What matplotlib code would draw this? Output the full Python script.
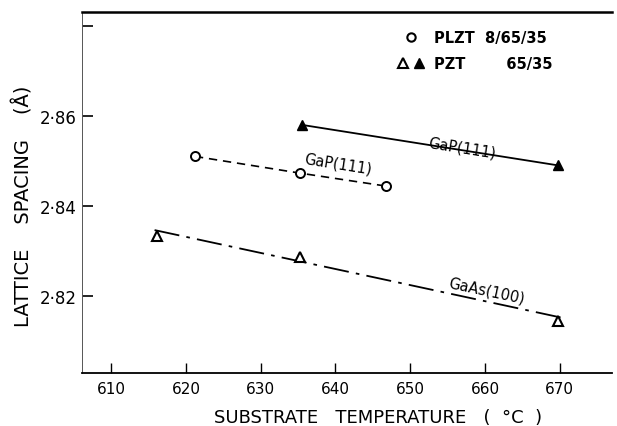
import numpy as np
import matplotlib.pyplot as plt
from matplotlib.lines import Line2D
from matplotlib.legend_handler import HandlerTuple

# PLZT 8/65/35 on GaP(111)
temp_plzt = [621.2, 635.2, 646.8]
spacing_plzt = [2.851, 2.8473, 2.8444]

# PZT 65/35 on GaP(111)
temp_pzt_gap = [635.5, 669.8]
spacing_pzt_gap = [2.858, 2.849]

# PZT 65/35 on GaAs(100)
temp_pzt_gaas = [616.1, 635.2, 669.8]
spacing_pzt_gaas = [2.8333, 2.8286, 2.8145]
gaas_fit_range = [615.8, 670.9]

xticks = [610, 620, 630, 640, 650, 660, 670]
yticks = [2.82, 2.84, 2.86, 2.88]
ytick_labels = ['2·82', '2·84', '2·86', '']

fig = plt.figure(figsize=(6.17, 4.27), dpi=100)
ax = fig.add_axes([0.133, 0.124, 0.859, 0.846])

# dashed line through PLZT points
ax.plot(temp_plzt, spacing_plzt, color='black', lw=1.2, dashes=(5, 3.5),
        marker='o', mfc='white', mec='black', ms=6.5, mew=1.4)

# solid line through PZT on GaP
ax.plot(temp_pzt_gap, spacing_pzt_gap, color='black', lw=1.3,
        marker='^', mfc='black', mec='black', ms=7)

# dash-dot fitted line for PZT on GaAs
coef = np.polyfit(temp_pzt_gaas, spacing_pzt_gaas, 1)
xf = np.array(gaas_fit_range)
ax.plot(xf, np.polyval(coef, xf) + 0.0004, color='black', lw=1.3,
        dashes=(14, 4, 2, 4))
ax.plot(temp_pzt_gaas, spacing_pzt_gaas, ls='none', marker='^',
        mfc='white', mec='black', ms=7, mew=1.5)

ax.text(656.9, 2.8530, 'GaP(111)', fontsize=10.5, rotation=-9,
        ha='center', va='center')
ax.text(640.3, 2.8495, 'GaP(111)', fontsize=10.5, rotation=-9,
        ha='center', va='center')
ax.text(660.2, 2.8214, 'GaAs(100)', fontsize=10.5, rotation=-12,
        ha='center', va='center')

ax.set_xlim(606.1, 677.0)
ax.set_ylim(2.8029, 2.8831)
ax.set_xticks(xticks)
ax.set_xticklabels([str(t) for t in xticks])
ax.set_yticks(yticks)
ax.set_yticklabels(ytick_labels)
ax.tick_params(axis='x', direction='in', length=7, width=1, labelsize=11, pad=6)
ax.tick_params(axis='y', direction='in', length=8, width=1.2, labelsize=12, pad=4)

ax.spines['right'].set_visible(False)
ax.spines['top'].set_linewidth(1.8)
ax.spines['bottom'].set_linewidth(1.3)
ax.spines['left'].set_linewidth(0.7)
ax.spines['left'].set_color('#555555')

h_circle = Line2D([], [], ls='none', marker='o', mfc='white', mec='black',
                  ms=6, mew=1.5)
h_tri_open = Line2D([], [], ls='none', marker='^', mfc='white', mec='black',
                    ms=7, mew=1.5)
h_tri_fill = Line2D([], [], ls='none', marker='^', mfc='black', mec='black',
                    ms=7)
leg = ax.legend([h_circle, (h_tri_open, h_tri_fill)],
                ['PLZT  8/65/35', 'PZT        65/35'],
                handler_map={tuple: HandlerTuple(ndivide=None, pad=0.2)},
                loc='upper left', bbox_to_anchor=(0.568, 0.985), frameon=False,
                handlelength=2.0, handletextpad=0.6, labelspacing=0.75,
                prop={'size': 10.5, 'weight': 'bold'})

fig.text(0.037, 0.517, 'LATTICE    SPACING    (Å)', rotation=90,
         ha='center', va='center', fontsize=14)
fig.text(0.613, 0.022, 'SUBSTRATE   TEMPERATURE   (  °C  )',
         ha='center', va='center', fontsize=13)

fig.savefig('out.png', dpi=100)
